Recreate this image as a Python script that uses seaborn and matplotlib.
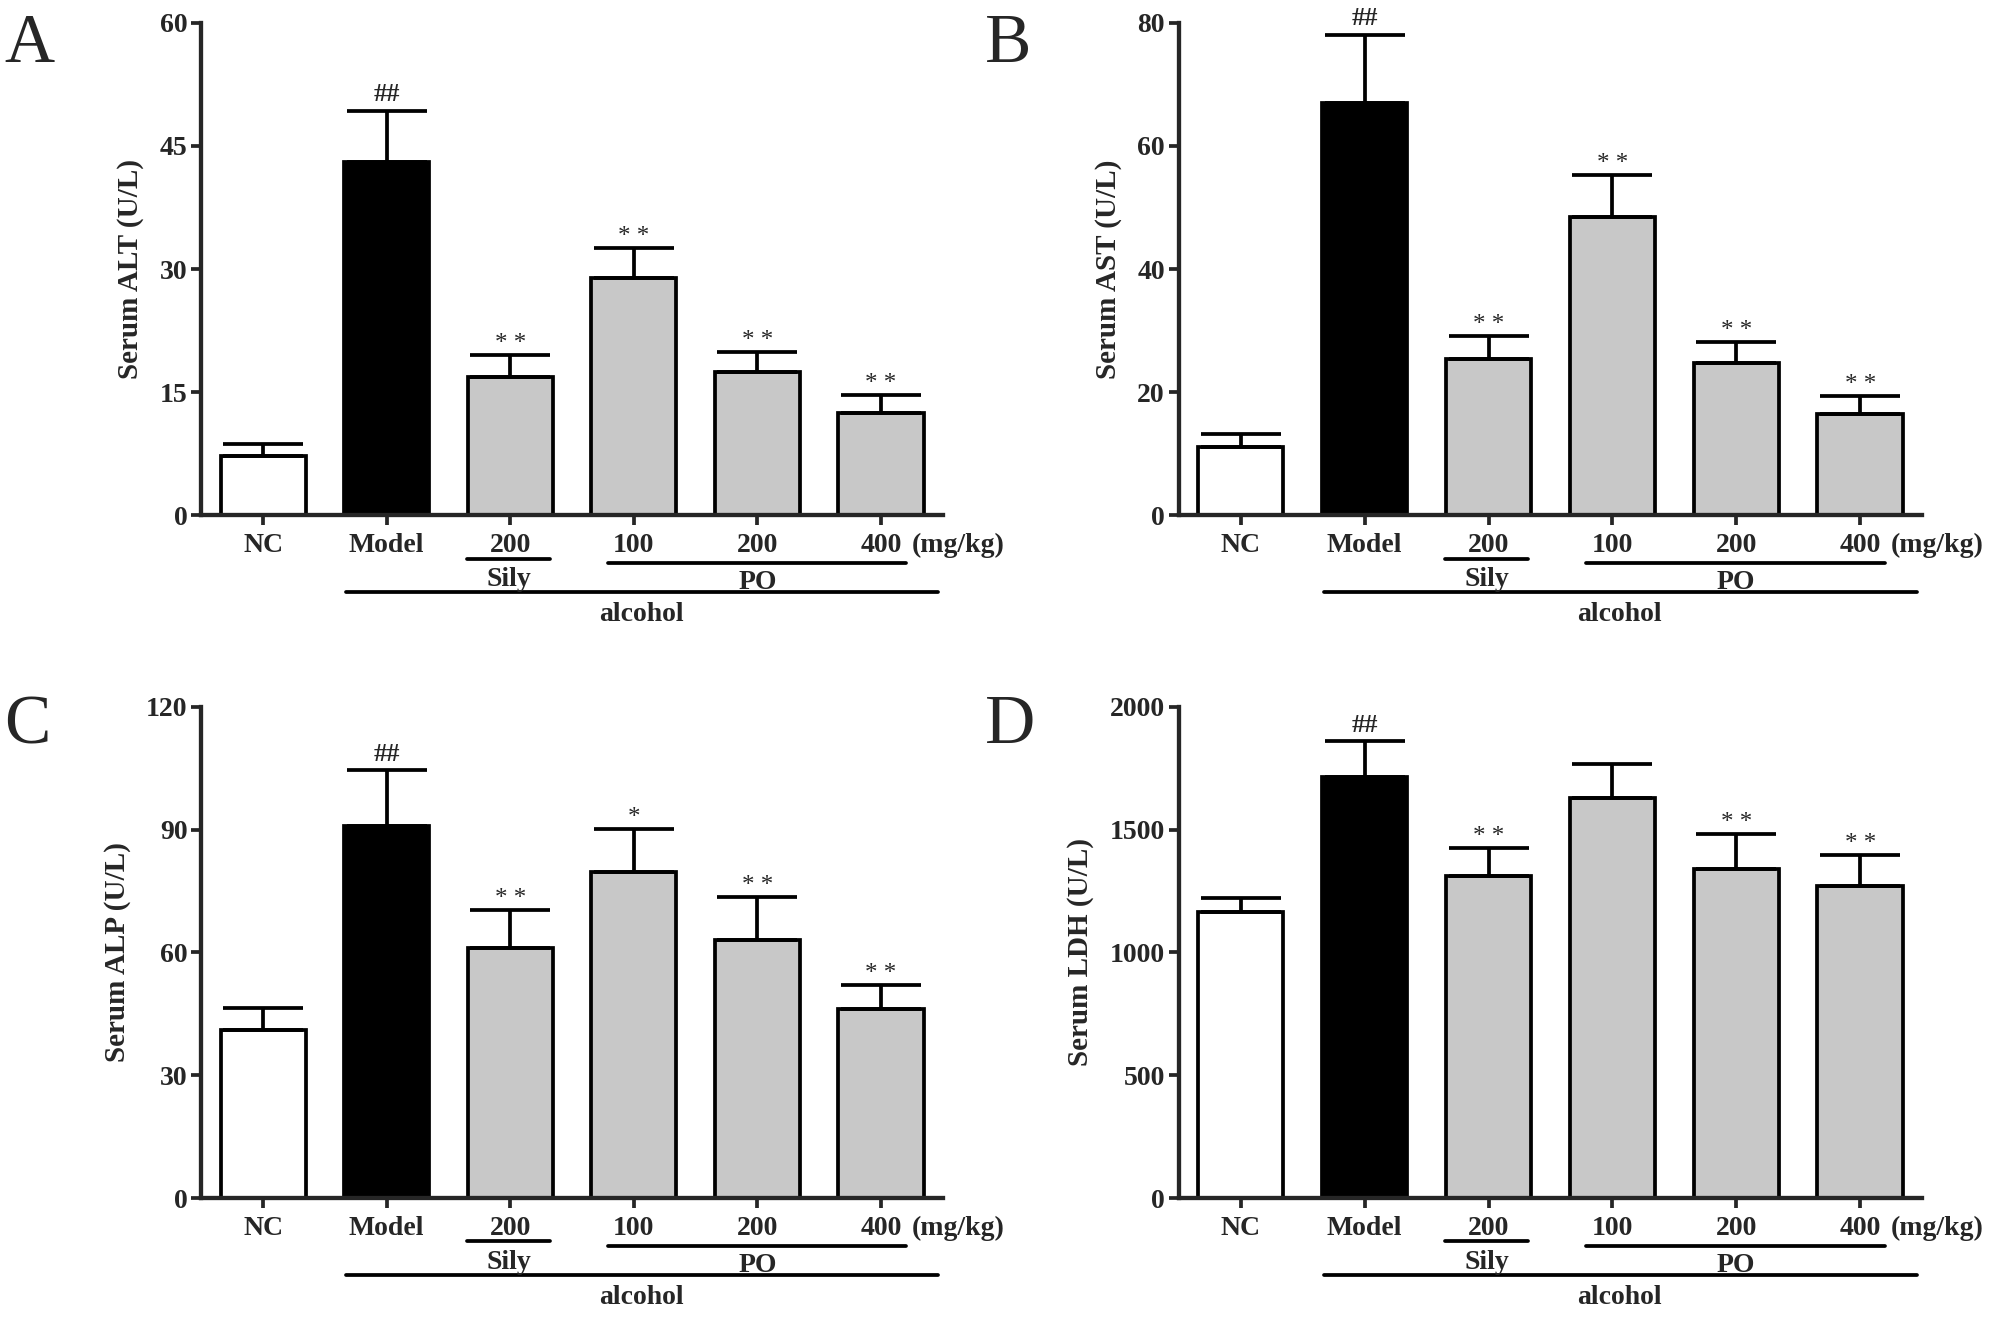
import numpy as np
import pandas as pd
import seaborn as sns
import matplotlib.pyplot as plt

# data (mean and upper error = SD)
groups = ['NC', 'Model', 'Sily200', 'PO100', 'PO200', 'PO400']
tick_labels = ['NC', 'Model', '200', '100', '200', '400']

alt_mean = [7.2, 43.0, 16.8, 28.9, 17.5, 12.4]
alt_sd = [1.5, 6.3, 2.7, 3.7, 2.4, 2.3]
ast_mean = [11.1, 67.0, 25.3, 48.5, 24.7, 16.5]
ast_sd = [2.1, 11.1, 3.8, 6.8, 3.5, 2.9]
alp_mean = [41.0, 90.9, 61.1, 79.7, 63.0, 46.2]
alp_sd = [5.5, 13.6, 9.3, 10.5, 10.5, 5.9]
ldh_mean = [1163, 1716, 1313, 1628, 1339, 1271]
ldh_sd = [57, 144, 113, 139, 144, 124]

alt_sig = ['', '##', '* *', '* *', '* *', '* *']
ast_sig = ['', '##', '* *', '* *', '* *', '* *']
alp_sig = ['', '##', '* *', '*', '* *', '* *']
ldh_sig = ['', '##', '* *', '', '* *', '* *']

sns.set_style('ticks')
plt.rcParams['font.family'] = ['Liberation Serif', 'DejaVu Serif']
plt.rcParams['font.weight'] = 'bold'

colors = ['white', 'black', '#c8c8c8', '#c8c8c8', '#c8c8c8', '#c8c8c8']
LW = 2.7
FS = 20


def panel(ax, mean, sd, sig, ylabel, ymax, step):
    df = pd.DataFrame({'group': groups, 'value': mean})
    sns.barplot(data=df, x='group', y='value', hue='group', palette=colors,
                edgecolor='black', linewidth=LW, width=0.69, legend=False,
                saturation=1, ax=ax)
    x = np.arange(len(groups))
    ax.errorbar(x, mean, yerr=[np.zeros(len(sd)), sd], fmt='none',
                ecolor='black', elinewidth=LW, capsize=29, capthick=LW, zorder=1)
    for xi, m, s, t in zip(x, mean, sd, sig):
        if t == '##':
            ax.annotate(t, (xi, m + s), xytext=(0, 3), textcoords='offset points',
                        ha='center', va='bottom', fontsize=19, fontweight='bold')
        elif t:
            ax.annotate(t, (xi, m + s), xytext=(0, 0), textcoords='offset points',
                        ha='center', va='bottom', fontsize=18, fontweight='normal')
    ax.set_xlim(-0.5, 5.5)
    ax.set_ylim(0, ymax)
    ax.set_yticks(np.arange(0, ymax + step / 2, step))
    ax.set_xticks(x)
    ax.set_xticklabels(tick_labels)
    ax.set_xlabel('')
    ax.set_ylabel(ylabel, fontsize=21, fontweight='bold', labelpad=11)
    for s in ['top', 'right']:
        ax.spines[s].set_visible(False)
    for s in ['left', 'bottom']:
        ax.spines[s].set_linewidth(LW + 0.4)
    ax.tick_params(axis='x', length=7, width=LW, pad=6, labelsize=FS)
    ax.tick_params(axis='y', length=7, width=LW, pad=3, labelsize=FS)

    # group brackets under the axis
    tr = ax.get_xaxis_transform()
    ax.text(5.25, -0.062, '(mg/kg)', transform=tr, ha='left', va='center', fontsize=FS)
    ax.plot([1.65, 2.32], [-0.088, -0.088], transform=tr, color='black', lw=LW, clip_on=False)
    ax.plot([2.79, 5.2], [-0.098, -0.098], transform=tr, color='black', lw=LW, clip_on=False)
    ax.plot([0.67, 5.46], [-0.157, -0.157], transform=tr, color='black', lw=LW, clip_on=False)
    ax.text(1.99, -0.13, 'Sily', transform=tr, ha='center', va='center', fontsize=FS)
    ax.text(4.0, -0.137, 'PO', transform=tr, ha='center', va='center', fontsize=FS)
    ax.text(3.06, -0.202, 'alcohol', transform=tr, ha='center', va='center', fontsize=FS)


fig = plt.figure(figsize=(19.98, 13.21), dpi=100)
axA = fig.add_axes([0.1008, 0.610, 0.371, 0.3727])
axB = fig.add_axes([0.590, 0.610, 0.372, 0.3727])
axC = fig.add_axes([0.1008, 0.093, 0.371, 0.372])
axD = fig.add_axes([0.590, 0.093, 0.372, 0.372])

panel(axA, alt_mean, alt_sd, alt_sig, 'Serum ALT (U/L)', 60, 15)
panel(axB, ast_mean, ast_sd, ast_sig, 'Serum AST (U/L)', 80, 20)
panel(axC, alp_mean, alp_sd, alp_sig, 'Serum ALP (U/L)', 120, 30)
panel(axD, ldh_mean, ldh_sd, ldh_sig, 'Serum LDH (U/L)', 2000, 500)

for lab, (px, py) in zip('ABCD', [(0.002, 0.99), (0.493, 0.99), (0.002, 0.474), (0.493, 0.474)]):
    fig.text(px, py, lab, ha='left', va='top', fontsize=50, fontweight='normal')

fig.savefig('out.png', dpi=100, facecolor='white')
